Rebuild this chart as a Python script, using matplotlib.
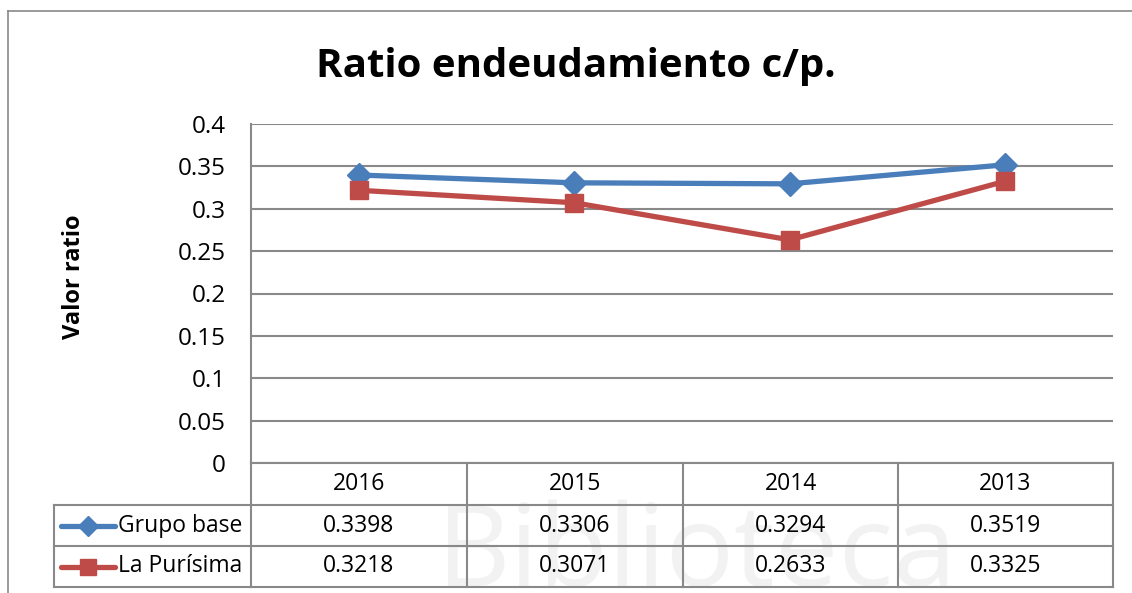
import matplotlib
matplotlib.use("Agg")
import matplotlib.pyplot as plt
from matplotlib.lines import Line2D

# ---- data ----
years = ["2016", "2015", "2014", "2013"]
grupo_base = [0.3398, 0.3306, 0.3294, 0.3519]
la_purisima = [0.3218, 0.3071, 0.2633, 0.3325]
series_names = ["Grupo base", "La Purísima"]
yticks = [0, 0.05, 0.1, 0.15, 0.2, 0.25, 0.3, 0.35, 0.4]
ytick_labels = ["0", "0.05", "0.1", "0.15", "0.2", "0.25", "0.3", "0.35", "0.4"]
title = "Ratio endeudamiento c/p."
ylabel = "Valor ratio"
watermark = "Biblioteca"

W, H = 1132, 593
FONT = "Open Sans"
plt.rcParams["font.family"] = [FONT, "DejaVu Sans"]

fig = plt.figure(figsize=(W / 100, H / 100), dpi=100)
fig.patch.set_facecolor("white")


def fx(x):
    return x / W


def fy(y):
    return 1 - y / H


GRID = "#898989"
BLUE = "#4a7ebb"
RED = "#be4b48"

# faint watermark
fig.text(fx(697), fy(586), watermark, fontsize=82, color="#f2f2f2",
         ha="center", va="baseline", zorder=0)

# outer chart border
fig.add_artist(Line2D([fx(8), fx(8)], [fy(11), fy(600)], color=GRID, lw=1.2))
fig.add_artist(Line2D([fx(8), fx(1140)], [fy(11), fy(11)], color=GRID, lw=1.2))

L, R, T, B = 251, 1113, 124, 463
ax = fig.add_axes([fx(L), fy(B), fx(R) - fx(L), fy(T) - fy(B)])
ax.set_facecolor("none")
x = list(range(len(years)))
ax.plot(x, grupo_base, color=BLUE, lw=3.8, marker="D", markersize=12,
        label=series_names[0], zorder=3)
ax.plot(x, la_purisima, color=RED, lw=3.8, marker="s", markersize=13,
        label=series_names[1], zorder=3)
ax.set_xlim(-0.5, len(years) - 0.5)
ax.set_ylim(0, 0.4)
ax.set_yticks(yticks)
ax.set_yticklabels(ytick_labels, fontsize=17.5)
ax.set_xticks([])
ax.tick_params(axis="y", length=0, pad=18)
ax.yaxis.grid(True, color=GRID, lw=1.5)
ax.set_axisbelow(True)
for s in ["top", "right", "bottom"]:
    ax.spines[s].set_visible(False)
ax.spines["left"].set_color(GRID)
ax.spines["left"].set_linewidth(1.5)

fig.text(fx(74), fy(277), ylabel, rotation=90, fontsize=17, fontweight="bold",
         ha="center", va="center")
fig.text(fx(576), fy(66), title, fontsize=29, fontweight="bold",
         ha="center", va="center")

# ---- data table ----
rows_y = [463, 505, 546, 587]
cols_x = [251, 467, 683, 898, 1113]
TL = 54
lw = 1.5
fig.add_artist(Line2D([fx(L), fx(R)], [fy(463), fy(463)], color=GRID, lw=lw))
for yy in rows_y[1:]:
    fig.add_artist(Line2D([fx(TL), fx(R)], [fy(yy), fy(yy)], color=GRID, lw=lw))
for xx in cols_x:
    fig.add_artist(Line2D([fx(xx), fx(xx)], [fy(463), fy(587)], color=GRID, lw=lw))
fig.add_artist(Line2D([fx(TL), fx(TL)], [fy(505), fy(587)], color=GRID, lw=lw))

FS = 16.5
for i, yr in enumerate(years):
    cx = (cols_x[i] + cols_x[i + 1]) / 2
    fig.text(fx(cx), fy((rows_y[0] + rows_y[1]) / 2), yr, fontsize=FS,
             ha="center", va="center")
    fig.text(fx(cx), fy((rows_y[1] + rows_y[2]) / 2), f"{grupo_base[i]:.4f}",
             fontsize=FS, ha="center", va="center")
    fig.text(fx(cx), fy((rows_y[2] + rows_y[3]) / 2), f"{la_purisima[i]:.4f}",
             fontsize=FS, ha="center", va="center")

# legend keys
for j, (name, col, mk, ms) in enumerate(zip(series_names, [BLUE, RED],
                                            ["D", "s"], [10, 11])):
    cy = (rows_y[j + 1] + rows_y[j + 2]) / 2
    fig.add_artist(Line2D([fx(61), fx(115)], [fy(cy), fy(cy)], color=col,
                          lw=3.8, solid_capstyle="round"))
    fig.add_artist(Line2D([fx(88)], [fy(cy)], color=col, marker=mk,
                          markersize=ms, lw=0))
    fig.text(fx(118), fy(cy), name, fontsize=FS, ha="left", va="center")

fig.savefig("out.png", dpi=100, facecolor="white")
